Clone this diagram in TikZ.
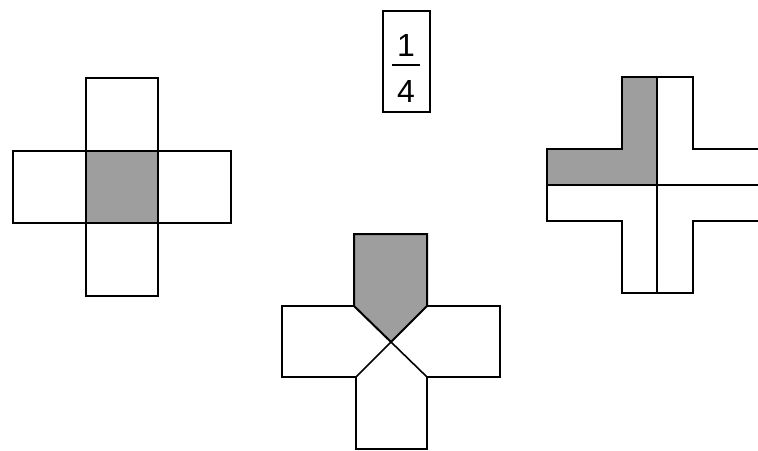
\documentclass[tikz,border=0pt]{standalone}
\usepackage{fontspec}
\setmainfont{Liberation Sans}
\begin{document}
\begin{tikzpicture}[x=1pt,y=-1pt,line width=1.6pt,line join=miter,
  shadefill/.style={fill=black!38},
  digit/.style={inner sep=0pt,font=\fontsize{32}{32}\selectfont}]
\useasboundingbox (0,0) rectangle (758,450);
% left cross
\fill[shadefill] (86,151) rectangle (158,223);
\draw (86,78) rectangle (158,296);
\draw (13,151) rectangle (231,223);
% middle figure
\draw[shadefill,line width=2pt] (354,234) -- (427,234) -- (427,306) -- (391,342) -- (354,306) -- cycle;
\draw (354,306) -- (282,306) -- (282,377) -- (356,377) -- (391,342);
\draw (427,306) -- (500,306) -- (500,377) -- (427,377) -- (391,342);
\draw (356,377) -- (356,449) -- (427,449) -- (427,377);
% right figure
\fill[shadefill] (622,77) -- (657,77) -- (657,185) -- (547,185) -- (547,149) -- (622,149) -- cycle;
\draw (758,221) -- (693,221) -- (693,293) -- (622,293) -- (622,221) -- (547,221) -- (547,149) -- (622,149) -- (622,77) -- (693,77) -- (693,149) -- (758,149);
\draw (657,77) -- (657,293);
\draw (547,185) -- (758,185);
% fraction
\node[draw,line width=1.4pt,minimum width=47pt,minimum height=101pt,inner sep=0pt] (box) at (406.5,61.5) {};
\node[digit] (num) at (406,45.5) {1};
\node[digit] (den) at (406,91.5) {4};
\draw[line width=1.3pt] (392,65) -- (420,65);
\end{tikzpicture}
\end{document}
